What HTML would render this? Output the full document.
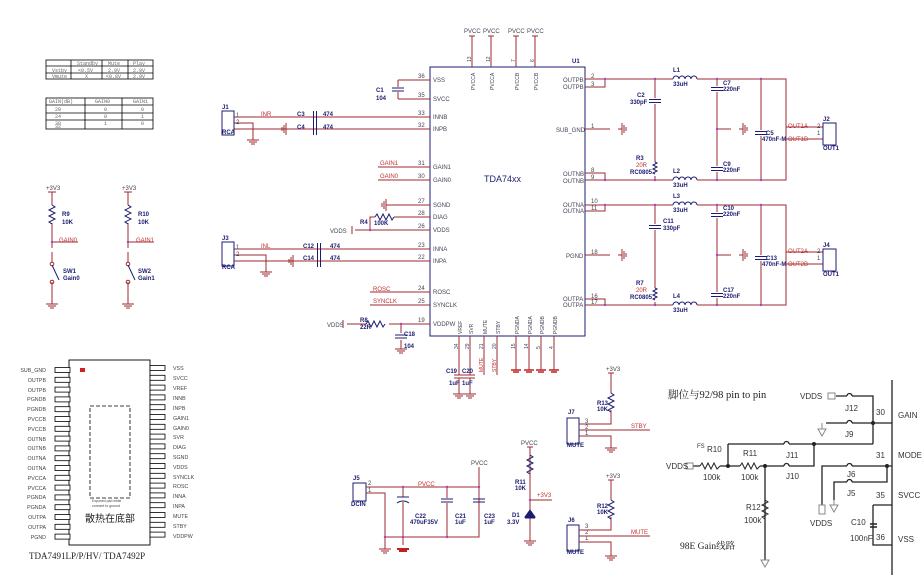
<!DOCTYPE html>
<html><head><meta charset="utf-8"><style>
html,body{margin:0;padding:0;background:#fff}
svg{display:block}
text{font-family:"Liberation Sans","Noto Sans CJK SC",sans-serif}
.w{stroke:#9c2a30;stroke-width:1;fill:none}
.b{stroke:#1c1c70;stroke-width:1;fill:none}
.k{stroke:#222;stroke-width:1.3;fill:none}
.t{font-size:6px;fill:#445}
.r{font-size:6px;fill:#c03030}
.n{font-size:6px;fill:#1c1c70;font-weight:bold}
.sf{font-family:"Liberation Serif","Noto Serif CJK SC",serif}
.mo{font-family:"Liberation Mono",monospace}
</style></head><body>
<svg width="923" height="581" viewBox="0 0 923 581" xmlns="http://www.w3.org/2000/svg">
<defs>
<g id="g"><path d="M0,0V4M-6,4H6M-4,6H4M-2,8H2" stroke="#9c2a30" fill="none"/></g>
<g id="gl"><path d="M0,0H-4M-4,-6V6M-6,-4V4M-8,-2V2" stroke="#9c2a30" fill="none"/></g>
<g id="rv"><path d="M0,0l3,2l-6,3l6,3l-6,3l6,3l-6,3l3,2" stroke="#1c1c70" fill="none"/></g>
<g id="rh"><path d="M0,0l2,-3l3,6l3,-6l3,6l3,-6l3,6l2,-3" stroke="#1c1c70" fill="none"/></g>
<g id="ch"><path d="M-6,-1.5H6M-6,1.5H6" stroke="#1c1c70" fill="none"/></g>
<g id="ind"><path d="M0,0a3,3 0 0 1 6,0a3,3 0 0 1 6,0a3,3 0 0 1 6,0a3,3 0 0 1 6,0" stroke="#1c1c70" fill="none"/></g>
<g id="pin"><rect x="0" y="-2.5" width="15" height="5" fill="#fff" stroke="#000" stroke-width="0.8"/></g>
<g id="rg"><path d="M-5,0H5M-3,2H3" stroke="#c02020" stroke-width="1.5"/></g>
</defs>

<!-- tables -->
<g stroke="#000" stroke-width="0.8" fill="none">
<rect x="46" y="60" width="107" height="19"/><path d="M46,66H153M46,73H153M71,60V79M102,60V79M128,60V79"/>
<rect x="46" y="98" width="107" height="31"/><path d="M46,105H153M46,113H153M46,120H153M85,98V129M122,98V129"/>
</g>
<g class="mo" font-size="5" fill="#666">
<text class="mo" x="77" y="65">Standby</text><text class="mo" x="108" y="65">Mute</text><text class="mo" x="133" y="65">Play</text>
<text class="mo" x="52" y="72">Vstby</text><text class="mo" x="78" y="72">&lt;0.5V</text><text class="mo" x="108" y="72">2.9V</text><text class="mo" x="133" y="72">2.9V</text>
<text class="mo" x="52" y="78">Vmute</text><text class="mo" x="85" y="78">X</text><text class="mo" x="106" y="78">&lt;0.8V</text><text class="mo" x="133" y="78">2.9V</text>
<text class="mo" x="49" y="103">GAIN(dB)</text><text class="mo" x="95" y="103">GAIN0</text><text class="mo" x="133" y="103">GAIN1</text>
<text class="mo" x="55" y="111">20</text><text class="mo" x="104" y="111">0</text><text class="mo" x="141" y="111">0</text>
<text class="mo" x="55" y="118">24</text><text class="mo" x="104" y="118">0</text><text class="mo" x="141" y="118">1</text>
<text class="mo" x="55" y="125">30</text><text class="mo" x="104" y="125">1</text><text class="mo" x="141" y="125">0</text>
<text class="mo" x="55" y="128">32</text>
</g>

<!-- switches -->
<g>
<text x="46" y="190" class="t">+3V3</text><text x="122" y="190" class="t">+3V3</text>
<path class="w" d="M52,192V205M52,223V300M128,192V205M128,223V300M48,192H56M124,192H132"/>
<use href="#rv" x="52" y="205"/><use href="#rv" x="128" y="205"/>
<rect x="47" y="248" width="10" height="40" fill="#fff"/><rect x="123" y="248" width="10" height="40" fill="#fff"/>
<path class="w" d="M52,242H78M128,242H154M52,252V262M52,282V300M128,252V262M128,282V300"/>
<circle cx="52" cy="264" r="1.8" class="w"/><circle cx="52" cy="282" r="1.8" class="w"/>
<circle cx="128" cy="264" r="1.8" class="w"/><circle cx="128" cy="282" r="1.8" class="w"/>
<path class="b" d="M52,265L59,280M128,265L135,280"/>
<circle cx="52" cy="242" r="1.2" fill="#b040b0"/><circle cx="128" cy="242" r="1.2" fill="#b040b0"/>
<text x="62" y="216" class="n">R9</text><text x="62" y="224" class="n">10K</text>
<text x="138" y="216" class="n">R10</text><text x="138" y="224" class="n">10K</text>
<text x="59" y="242" class="r">GAIN0</text><text x="136" y="242" class="r">GAIN1</text>
<text x="63" y="273" class="n">SW1</text><text x="63" y="280" class="n">Gain0</text>
<text x="138" y="273" class="n">SW2</text><text x="138" y="280" class="n">Gain1</text>
<use href="#g" x="52" y="300"/><use href="#g" x="128" y="300"/>
</g>

<!-- U1 -->
<rect x="430" y="67" width="155" height="269" fill="none" stroke="#1c1c70" stroke-width="1"/>
<text x="572" y="63" class="n">U1</text>
<text x="484" y="182" font-size="9" fill="#1c1c70">TDA74xx</text>
<g class="w"><path d="M472,36V67M491,36V67M516,36V67M535,36V67M469,36H475M488,36H494M513,36H519M532,36H538"/></g>
<g class="t"><text x="464" y="33">PVCC</text><text x="483" y="33">PVCC</text><text x="508" y="33">PVCC</text><text x="527" y="33">PVCC</text></g>
<g font-size="5" fill="#445">
<text transform="translate(471,62) rotate(-90)">13</text><text transform="translate(490,62) rotate(-90)">12</text>
<text transform="translate(515,62) rotate(-90)">7</text><text transform="translate(534,62) rotate(-90)">6</text>
<text transform="translate(475,90) rotate(-90)">PVCCA</text><text transform="translate(494,90) rotate(-90)">PVCCA</text>
<text transform="translate(519,90) rotate(-90)">PVCCB</text><text transform="translate(538,90) rotate(-90)">PVCCB</text>
</g>
<g class="w">
<path d="M398,80H430M398,99H430M398,80V87M398,92V99"/>
<path d="M234,117H430M234,123H253V136M234,129H430"/>
<path d="M378,167H430M378,180H430"/>
<path d="M390,205H430M370,217H430M355,230H430M352,226V234"/>
<path d="M234,249H430M234,255H266V268M234,261H430"/>
<path d="M370,292H430M370,305H430"/>
<path d="M347,324H430M343,320V328M401,324V333M401,340V345"/>
</g>
<use href="#ch" x="398" y="89.5"/>
<use href="#ch" transform="translate(315,117) rotate(90)"/><use href="#ch" transform="translate(315,129) rotate(90)"/>
<use href="#ch" transform="translate(319,249) rotate(90)"/><use href="#ch" transform="translate(319,261) rotate(90)"/>
<use href="#gl" x="290" y="129"/><use href="#gl" x="297" y="261"/><use href="#gl" x="390" y="205"/>
<use href="#g" x="253" y="136"/><use href="#g" x="266" y="268"/><use href="#g" x="401" y="345"/>
<rect x="374" y="213" width="20" height="8" fill="#fff"/><use href="#rh" x="375" y="217"/>
<rect x="365" y="320" width="24" height="8" fill="#fff"/><use href="#rh" x="366" y="324"/>
<path class="w" d="M375,217H370V230M366,324H347"/>
<use href="#ch" x="401" y="336.5"/>
<circle cx="370" cy="230" r="1.2" fill="#b040b0"/><circle cx="401" cy="324" r="1.2" fill="#b040b0"/>
<rect x="222" y="111" width="12" height="24" fill="none" stroke="#1c1c70"/>
<rect x="222" y="242" width="12" height="24" fill="none" stroke="#1c1c70"/>
<g class="n"><text x="222" y="109">J1</text><text x="222" y="134">RCA</text><text x="222" y="240">J3</text><text x="222" y="269">RCA</text>
<text x="297" y="116">C3</text><text x="297" y="129">C4</text><text x="323" y="116">474</text><text x="323" y="129">474</text>
<text x="303" y="248">C12</text><text x="303" y="260">C14</text><text x="330" y="248">474</text><text x="330" y="260">474</text>
<text x="376" y="92">C1</text><text x="376" y="100">104</text>
<text x="360" y="224">R4</text><text x="374" y="225">100K</text>
<text x="360" y="322">R8</text><text x="360" y="329">22R</text><text x="404" y="336">C18</text><text x="404" y="348">104</text></g>
<text x="330" y="233" class="t">VDDS</text><text x="327" y="327" class="t">VDDS</text>
<text x="236" y="117" class="t">1</text><text x="236" y="124" class="t">2</text>
<text x="236" y="249" class="t">1</text><text x="236" y="256" class="t">2</text>
<g class="r"><text x="261" y="116">INR</text><text x="261" y="248">INL</text><text x="380" y="165">GAIN1</text><text x="380" y="178">GAIN0</text>
<text x="373" y="291">ROSC</text><text x="373" y="303">SYNCLK</text></g>
<g class="t"><text x="418" y="78">36</text><text x="418" y="97">35</text><text x="418" y="115">33</text><text x="418" y="127">32</text>
<text x="418" y="165">31</text><text x="418" y="178">30</text><text x="418" y="203">27</text><text x="418" y="215">28</text><text x="418" y="228">26</text>
<text x="418" y="247">23</text><text x="418" y="259">22</text><text x="418" y="290">24</text><text x="418" y="303">25</text><text x="418" y="322">19</text>
<text x="433" y="82">VSS</text><text x="433" y="101">SVCC</text><text x="433" y="119">INNB</text><text x="433" y="131">INPB</text>
<text x="433" y="169">GAIN1</text><text x="433" y="182">GAIN0</text><text x="433" y="207">SGND</text><text x="433" y="219">DIAG</text><text x="433" y="232">VDDS</text>
<text x="433" y="251">INNA</text><text x="433" y="263">INPA</text><text x="433" y="294">ROSC</text><text x="433" y="307">SYNCLK</text><text x="433" y="326">VDDPW</text></g>
<g class="w"><path d="M459,336V375M470,336V375M484,336V375M497,336V375M516,336V370M529,336V370M541,336V370M554,336V370M454,375H475M454,378H475M459,378V390M470,378V390"/></g>
<use href="#rg" x="516" y="370"/><use href="#rg" x="529" y="370"/><use href="#rg" x="541" y="370"/><use href="#rg" x="554" y="370"/>
<use href="#g" x="459" y="390"/><use href="#g" x="470" y="390"/>
<g font-size="5" fill="#445">
<text transform="translate(462,334) rotate(-90)">VREF</text><text transform="translate(473,334) rotate(-90)">SVR</text>
<text transform="translate(487,334) rotate(-90)">MUTE</text><text transform="translate(500,334) rotate(-90)">STBY</text>
<text transform="translate(519,334) rotate(-90)">PGNDA</text><text transform="translate(532,334) rotate(-90)">PGNDA</text>
<text transform="translate(544,334) rotate(-90)">PGNDB</text><text transform="translate(557,334) rotate(-90)">PGNDB</text>
<text transform="translate(458,349) rotate(-90)">34</text><text transform="translate(469,349) rotate(-90)">29</text>
<text transform="translate(483,349) rotate(-90)">21</text><text transform="translate(496,349) rotate(-90)">20</text>
<text transform="translate(515,349) rotate(-90)">15</text><text transform="translate(528,349) rotate(-90)">14</text>
<text transform="translate(540,349) rotate(-90)">5</text><text transform="translate(553,349) rotate(-90)">4</text>
</g>
<g font-size="5" fill="#c03030"><text transform="translate(483,372) rotate(-90)">MUTE</text><text transform="translate(496,372) rotate(-90)">STBY</text></g>
<g class="n"><text x="446" y="373">C19</text><text x="462" y="373">C20</text><text x="449" y="385">1uF</text><text x="462" y="385">1uF</text></g>

<!-- right side output -->
<g class="w">
<path d="M585,79H673M697,79H786V180H697M673,180H585M585,87H605V79M585,173H605V180"/>
<path d="M585,205H673M697,205H786V305H697M673,305H585M585,211H605V205M585,299H605V305"/>
<path d="M655,79V98M655,104V162M655,176V180M717,79V86M717,92V166M717,172V180M761,79V130M761,136V180"/>
<path d="M655,205V224M655,230V288M655,302V305M717,205V212M717,218V292M717,298V305M761,205V255M761,261V305"/>
<path d="M585,129H610M717,129H731M585,255H610M717,255H731"/>
<path d="M786,127H823M786,139H823M786,252H823M786,264H823"/>
</g>
<use href="#ind" x="673" y="79"/><use href="#ind" x="673" y="180"/><use href="#ind" x="673" y="205"/><use href="#ind" x="673" y="305"/>
<use href="#ch" x="655" y="101"/><use href="#ch" x="655" y="227"/><use href="#ch" x="717" y="89"/><use href="#ch" x="717" y="169"/>
<use href="#ch" x="717" y="215"/><use href="#ch" x="717" y="295"/><use href="#ch" x="761" y="133"/><use href="#ch" x="761" y="258"/>
<path d="M655,162l2,1l-4,2l4,2l-4,2l4,2l-4,2l2,1M655,288l2,1l-4,2l4,2l-4,2l4,2l-4,2l2,1" stroke="#1c1c70" fill="none"/>
<use href="#gl" transform="translate(618,129) scale(-1,1)"/><use href="#gl" transform="translate(739,129) scale(-1,1)"/>
<use href="#gl" transform="translate(618,255) scale(-1,1)"/><use href="#gl" transform="translate(739,255) scale(-1,1)"/>
<g fill="#b040b0"><circle cx="605" cy="79" r="1.2"/><circle cx="655" cy="79" r="1.2"/><circle cx="717" cy="79" r="1.2"/><circle cx="761" cy="79" r="1.2"/>
<circle cx="605" cy="180" r="1.2"/><circle cx="655" cy="180" r="1.2"/><circle cx="717" cy="180" r="1.2"/><circle cx="761" cy="180" r="1.2"/><circle cx="717" cy="129" r="1.2"/>
<circle cx="605" cy="205" r="1.2"/><circle cx="655" cy="205" r="1.2"/><circle cx="717" cy="205" r="1.2"/><circle cx="761" cy="205" r="1.2"/>
<circle cx="605" cy="305" r="1.2"/><circle cx="655" cy="305" r="1.2"/><circle cx="717" cy="305" r="1.2"/><circle cx="761" cy="305" r="1.2"/><circle cx="717" cy="255" r="1.2"/></g>
<rect x="823" y="123" width="13" height="22" fill="none" stroke="#1c1c70"/><rect x="823" y="249" width="13" height="22" fill="none" stroke="#1c1c70"/>
<g class="t"><text x="563" y="82">OUTPB</text><text x="563" y="89">OUTPB</text><text x="556" y="132">SUB_GND</text><text x="563" y="176">OUTNB</text><text x="563" y="183">OUTNB</text>
<text x="563" y="207">OUTNA</text><text x="563" y="213">OUTNA</text><text x="566" y="258">PGND</text><text x="563" y="301">OUTPA</text><text x="563" y="307">OUTPA</text>
<text x="591" y="78">2</text><text x="591" y="86">3</text><text x="591" y="128">1</text><text x="591" y="172">8</text><text x="591" y="179">9</text>
<text x="591" y="203">10</text><text x="591" y="210">11</text><text x="591" y="254">18</text><text x="591" y="298">16</text><text x="591" y="304">17</text>
<text x="817" y="128">2</text><text x="817" y="135">1</text><text x="817" y="253">2</text><text x="817" y="260">1</text></g>
<g class="n"><text x="673" y="72">L1</text><text x="673" y="86">33uH</text><text x="673" y="173">L2</text><text x="673" y="187">33uH</text>
<text x="673" y="198">L3</text><text x="673" y="212">33uH</text><text x="673" y="298">L4</text><text x="673" y="312">33uH</text>
<text x="637" y="97">C2</text><text x="630" y="104">330pF</text><text x="663" y="223">C11</text><text x="663" y="230">330pF</text>
<text x="723" y="85">C7</text><text x="723" y="91">220nF</text><text x="723" y="166">C9</text><text x="723" y="172">220nF</text>
<text x="723" y="210">C10</text><text x="723" y="216">220nF</text><text x="723" y="292">C17</text><text x="723" y="298">220nF</text>
<text x="766" y="135">C5</text><text x="762" y="141">470nF-M</text><text x="766" y="260">C13</text><text x="762" y="266">470nF-M</text>
<text x="636" y="160">R3</text><text x="630" y="174">RC0805</text><text x="636" y="285">R7</text><text x="630" y="299">RC0805</text>
<text x="823" y="121">J2</text><text x="823" y="150">OUT1</text><text x="823" y="247">J4</text><text x="823" y="276">OUT1</text></g>
<g class="r"><text x="636" y="167">20R</text><text x="636" y="292">20R</text><text x="788" y="128">OUT1A</text><text x="788" y="141">OUT1B</text><text x="788" y="253">OUT2A</text><text x="788" y="266">OUT2B</text></g>

<!-- bottom-left chip -->
<rect x="69" y="360" width="81" height="185" fill="none" stroke="#000" stroke-width="0.9"/>
<rect x="90" y="406" width="40" height="92" fill="none" stroke="#000" stroke-width="0.8" stroke-dasharray="4,2"/>
<rect x="80" y="368" width="5" height="4" fill="#d02020"/>
<g id="lp">
<use href="#pin" x="55" y="370"/><use href="#pin" x="55" y="379.8"/><use href="#pin" x="55" y="389.6"/><use href="#pin" x="55" y="399.4"/><use href="#pin" x="55" y="409.2"/><use href="#pin" x="55" y="419"/><use href="#pin" x="55" y="428.8"/><use href="#pin" x="55" y="438.6"/><use href="#pin" x="55" y="448.4"/><use href="#pin" x="55" y="458.2"/><use href="#pin" x="55" y="468"/><use href="#pin" x="55" y="477.8"/><use href="#pin" x="55" y="487.6"/><use href="#pin" x="55" y="497.4"/><use href="#pin" x="55" y="507.2"/><use href="#pin" x="55" y="517"/><use href="#pin" x="55" y="526.8"/><use href="#pin" x="55" y="536.6"/>
</g>
<use href="#lp" x="95" y="-2"/>
<g font-size="5.3" fill="#444" text-anchor="end">
<text x="46" y="372">SUB_GND</text><text x="46" y="382">OUTPB</text><text x="46" y="392">OUTPB</text><text x="46" y="401">PGNDB</text><text x="46" y="411">PGNDB</text><text x="46" y="421">PVCCB</text><text x="46" y="431">PVCCB</text><text x="46" y="441">OUTNB</text><text x="46" y="450">OUTNB</text><text x="46" y="460">OUTNA</text><text x="46" y="470">OUTNA</text><text x="46" y="480">PVCCA</text><text x="46" y="490">PVCCA</text><text x="46" y="499">PGNDA</text><text x="46" y="509">PGNDA</text><text x="46" y="519">OUTPA</text><text x="46" y="529">OUTPA</text><text x="46" y="539">PGND</text>
</g>
<g font-size="5.3" fill="#444">
<text x="173" y="370">VSS</text><text x="173" y="380">SVCC</text><text x="173" y="390">VREF</text><text x="173" y="400">INNB</text><text x="173" y="410">INPB</text><text x="173" y="420">GAIN1</text><text x="173" y="430">GAIN0</text><text x="173" y="439">SVR</text><text x="173" y="449">DIAG</text><text x="173" y="459">SGND</text><text x="173" y="469">VDDS</text><text x="173" y="479">SYNCLK</text><text x="173" y="488">ROSC</text><text x="173" y="498">INNA</text><text x="173" y="508">INPA</text><text x="173" y="518">MUTE</text><text x="173" y="528">STBY</text><text x="173" y="538">VDDPW</text>
</g>
<text x="85" y="522" font-size="10" fill="#222">散热在底部</text>
<text x="92" y="502" font-size="3.5" fill="#444">Exposed pad while</text><text x="92" y="507" font-size="3.5" fill="#444">connect to ground</text>
<text class="sf" x="29" y="559" font-size="9" fill="#222">TDA7491LP/P/HV/ TDA7492P</text>

<!-- power section -->
<rect x="353" y="483" width="13" height="18" fill="none" stroke="#1c1c70"/>
<g class="w"><path d="M366,487H479M366,493H385V545M385,537H479V467M403,487V497M403,502V545M447,487V498M447,503V537M479,487V498M479,503V537"/></g>
<path d="M397,497H409M397,503Q403,499 409,503" stroke="#1c1c70" fill="none"/>
<use href="#ch" x="447" y="500.5"/><use href="#ch" x="479" y="500.5"/>
<use href="#g" x="385" y="545"/>
<path d="M397,549H409M399,551H407" stroke="#c02020" stroke-width="2"/>
<g fill="#b040b0"><circle cx="403" cy="487" r="1.2"/><circle cx="447" cy="487" r="1.2"/><circle cx="479" cy="487" r="1.2"/><circle cx="385" cy="537" r="1.2"/><circle cx="403" cy="537" r="1.2"/><circle cx="447" cy="537" r="1.2"/></g>
<g class="n"><text x="353" y="480">J5</text><text x="351" y="506">DCIN</text><text x="415" y="518">C22</text><text x="410" y="524">470uF35V</text>
<text x="455" y="518">C21</text><text x="455" y="524">1uF</text><text x="484" y="518">C23</text><text x="484" y="524">1uF</text>
<text x="512" y="517">D1</text><text x="507" y="524">3.3V</text><text x="515" y="484">R11</text><text x="515" y="490">10K</text>
<text x="597" y="405">R13</text><text x="597" y="411">10K</text><text x="597" y="508">R12</text><text x="597" y="514">10K</text>
<text x="568" y="414">J7</text><text x="567" y="447">MUTE</text><text x="568" y="522">J6</text><text x="567" y="554">MUTE</text></g>
<g class="t"><text x="368" y="485">2</text><text x="368" y="492">1</text><text x="471" y="465">PVCC</text><text x="521" y="445">PVCC</text>
<text x="606" y="371">+3V3</text><text x="606" y="478">+3V3</text>
<text x="585" y="423">3</text><text x="585" y="429">2</text><text x="585" y="435">1</text><text x="585" y="528">3</text><text x="585" y="534">2</text><text x="585" y="540">1</text></g>
<text x="418" y="486" class="r">PVCC</text><text x="537" y="497" class="r">+3V3</text><text x="631" y="428" class="r">STBY</text><text x="631" y="534" class="r">MUTE</text>
<g class="w"><path d="M530,447V473M530,473V500H552M530,500V510M530,516V537M527,447H533"/>
<path d="M611,373V393M611,410V424H582M582,430H650M582,436H611V444M608,373H614"/>
<path d="M611,480V500M611,517V530H582M582,536H650M582,542H611V552M608,480H614"/></g>
<use href="#rv" x="530" y="455"/><use href="#rv" x="611" y="393"/><use href="#rv" x="611" y="500"/>
<path d="M525,518H535M530,510L525,517H535Z" fill="#1c1c70" stroke="#1c1c70"/>
<use href="#g" x="530" y="537"/><use href="#g" x="611" y="444"/><use href="#g" x="611" y="552"/>
<circle cx="530" cy="500" r="1.2" fill="#b040b0"/>
<rect x="567" y="418" width="12" height="26" fill="none" stroke="#1c1c70"/><rect x="567" y="525" width="12" height="26" fill="none" stroke="#1c1c70"/>
<path d="M579,424H582M579,430H582M579,436H582M579,530H582M579,536H582M579,542H582" stroke="#9c2a30"/>

<!-- right panel -->
<text class="sf" x="668" y="398" font-size="10.5" fill="#222">脚位与92/98 pin to pin</text>
<text class="sf" x="680" y="549" font-size="9.5" fill="#222">98E Gain线路</text>
<g class="k">
<path d="M892,380V575"/>
<path d="M836,396H847M852,396H873V444M826,423H847M852,423H892M728,444H784M789,444H873M728,444V466M693,466H700M720,466H740M760,466H784M789,466H814V444M765,466V560M822,505V466H847M852,466H892M834,500V482H847M852,482H887V466M873,505H892M873,505V545H892"/>
<path d="M847,396a2.5,2.5 0 0 1 5,0M847,423a2.5,2.5 0 0 1 5,0M784,444a2.5,2.5 0 0 1 5,0M784,466a2.5,2.5 0 0 1 5,0M847,466a2.5,2.5 0 0 1 5,0M847,482a2.5,2.5 0 0 1 5,0"/>
<path d="M700,466l2,-3l3,6l3,-6l3,6l3,-6l3,6l3,-3M740,466l2,-3l3,6l3,-6l3,6l3,-6l3,6l3,-3M765,500l3,2l-6,3l6,3l-6,3l6,3l-6,3l3,2" stroke-width="1"/>
<path d="M870,524H877M870,527H877" stroke-width="1.5"/>
</g>
<g fill="#222"><circle cx="873" cy="423" r="2"/><circle cx="814" cy="444" r="2"/><circle cx="728" cy="466" r="2"/><circle cx="765" cy="466" r="2"/><circle cx="887" cy="466" r="2"/></g>
<g fill="none" stroke="#888"><rect x="828" y="393" width="7" height="6"/><rect x="686" y="463" width="7" height="6"/><rect x="819" y="505" width="6" height="9"/>
<path d="M822,423V429M818,429H826L822,436ZM834,500V505M830,505H838L834,512ZM765,560H761L765,567L769,560Z"/></g>
<g font-size="8" fill="#333">
<text x="800" y="399">VDDS</text><text x="845" y="411">J12</text><text x="845" y="437">J9</text><text x="786" y="458">J11</text><text x="786" y="479">J10</text>
<text x="707" y="452">R10</text><text x="697" y="448" font-size="6">FS</text><text x="743" y="456">R11</text><text x="666" y="469">VDDS</text>
<text x="703" y="480">100k</text><text x="741" y="480">100k</text><text x="746" y="510">R12</text><text x="744" y="523">100k</text>
<text x="847" y="477">J6</text><text x="847" y="496">J5</text><text x="810" y="526">VDDS</text><text x="851" y="525">C10</text><text x="850" y="541">100nF</text>
<text x="876" y="415">30</text><text x="876" y="458">31</text><text x="876" y="498">35</text><text x="876" y="540">36</text>
<text x="898" y="418">GAIN</text><text x="898" y="458">MODE</text><text x="898" y="498">SVCC</text><text x="898" y="542">VSS</text>
</g>
</svg>
</body></html>
